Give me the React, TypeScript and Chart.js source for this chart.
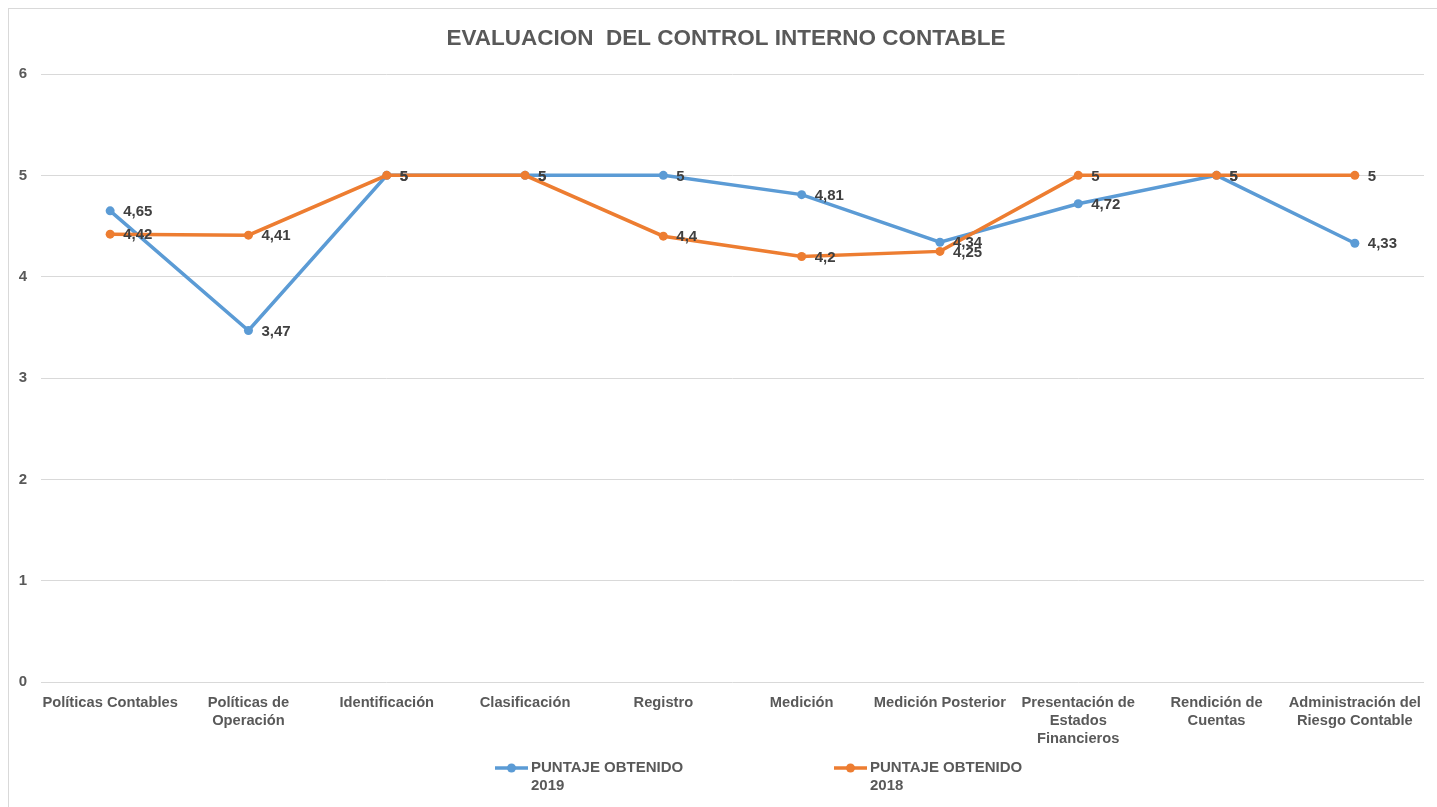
import React, { useEffect, useRef } from "react";
import { Chart, registerables } from "chart.js";
Chart.register(...registerables);

const categories: (string | string[])[] = [
  "Políticas Contables",
  ["Políticas de", "Operación"],
  "Identificación",
  "Clasificación",
  "Registro",
  "Medición",
  "Medición Posterior",
  ["Presentación de", "Estados", "Financieros"],
  ["Rendición de", "Cuentas"],
  ["Administración del", "Riesgo Contable"],
];
const puntaje2019 = [4.65, 3.47, 5, 5, 5, 4.81, 4.34, 4.72, 5, 4.33];
const puntaje2018 = [4.42, 4.41, 5, 5, 4.4, 4.2, 4.25, 5, 5, 5];
const legendNames = [["PUNTAJE OBTENIDO", "2019"], ["PUNTAJE OBTENIDO", "2018"]];
const titleText = "EVALUACION  DEL CONTROL INTERNO CONTABLE";
const yMin = 0;
const yMax = 6;
const yStep = 1;

const BLUE = "#5B9BD5";
const ORANGE = "#ED7D31";
const TEXT = "#595959";
const FONT = "'Liberation Sans', Arial, sans-serif";

const titlePlugin = {
  id: "customTitle",
  afterDraw(chart: any) {
    const ctx = chart.ctx;
    ctx.save();
    ctx.font = `bold 22.5px ${FONT}`;
    ctx.fillStyle = TEXT;
    ctx.textAlign = "center";
    ctx.textBaseline = "middle";
    ctx.fillText(titleText, chart.width / 2 - 2, 30);
    ctx.restore();
  },
};

const dataLabelPlugin = {
  id: "dataLabels",
  afterDatasetsDraw(chart: any) {
    const ctx = chart.ctx;
    ctx.save();
    ctx.font = `bold 15px ${FONT}`;
    ctx.fillStyle = "#404040";
    ctx.textAlign = "left";
    ctx.textBaseline = "middle";
    chart.data.datasets.forEach((ds: any, i: number) => {
      const meta = chart.getDatasetMeta(i);
      meta.data.forEach((pt: any, j: number) => {
        const v = ds.data[j];
        ctx.fillText(String(v).replace(".", ","), pt.x + 13, pt.y + 1);
      });
    });
    ctx.restore();
  },
};

const legendPlugin = {
  id: "customLegend",
  afterDraw(chart: any) {
    const ctx = chart.ctx;
    const cx = chart.width / 2;
    const starts = [cx - 233, cx + 106];
    const colors = [BLUE, ORANGE];
    const y = chart.height - 49;
    ctx.save();
    starts.forEach((sx, i) => {
      ctx.strokeStyle = colors[i];
      ctx.lineWidth = 3.5;
      ctx.beginPath();
      ctx.moveTo(sx, y);
      ctx.lineTo(sx + 33, y);
      ctx.stroke();
      ctx.fillStyle = colors[i];
      ctx.beginPath();
      ctx.arc(sx + 16.5, y, 4.5, 0, Math.PI * 2);
      ctx.fill();
      ctx.fillStyle = TEXT;
      ctx.font = `bold 15px ${FONT}`;
      ctx.textAlign = "left";
      ctx.textBaseline = "middle";
      legendNames[i].forEach((line, k) => {
        ctx.fillText(line, sx + 36, y + k * 18);
      });
    });
    ctx.restore();
  },
};

export default function App() {
  const ref = useRef<HTMLCanvasElement>(null);
  useEffect(() => {
    if (!ref.current) return;
    const chart = new Chart(ref.current, {
      type: "line",
      data: {
        labels: categories,
        datasets: [
          {
            label: legendNames[0].join(" "),
            data: puntaje2019,
            borderColor: BLUE,
            backgroundColor: BLUE,
            borderWidth: 3.5,
            pointRadius: 4.5,
            pointBackgroundColor: BLUE,
            pointBorderWidth: 0,
            tension: 0,
            order: 1,
          },
          {
            label: legendNames[1].join(" "),
            data: puntaje2018,
            borderColor: ORANGE,
            backgroundColor: ORANGE,
            borderWidth: 3.5,
            pointRadius: 4.5,
            pointBackgroundColor: ORANGE,
            pointBorderWidth: 0,
            tension: 0,
            order: 0,
          },
        ],
      },
      options: {
        animation: false,
        responsive: true,
        maintainAspectRatio: false,
        layout: { padding: { left: 0, right: 23, top: 65, bottom: 69 } },
        plugins: {
          legend: { display: false },
          tooltip: { enabled: false },
          title: { display: false },
        },
        scales: {
          x: {
            offset: true,
            grid: {
              display: true,
              drawOnChartArea: false,
              drawTicks: true,
              tickLength: 12,
              tickColor: "rgba(0,0,0,0)",
              offset: true,
            },
            border: { display: false },
            ticks: {
              autoSkip: false,
              maxRotation: 0,
              minRotation: 0,
              padding: 0,
              color: TEXT,
              font: { family: FONT, size: 14.7, weight: "bold", lineHeight: 1.22 },
            },
          },
          y: {
            min: yMin,
            max: yMax,
            afterFit: (scale: any) => {
              scale.width = 32;
            },
            grid: { color: "#d9d9d9", lineWidth: 1, drawTicks: false },
            border: { display: false },
            ticks: {
              stepSize: yStep,
              padding: 14,
              color: TEXT,
              font: { family: FONT, size: 15, weight: "bold" },
            },
          },
        },
      },
      plugins: [dataLabelPlugin, legendPlugin, titlePlugin],
    });
    return () => chart.destroy();
  }, []);
  return (
    <div
      style={{
        position: "absolute",
        left: 8,
        top: 8,
        width: "calc(100vw - 8px)",
        height: "calc(100vh - 8px)",
        overflow: "hidden",
      }}
    >
      <div
        style={{
          width: 1440,
          height: 810,
          border: "1px solid #d9d9d9",
          boxSizing: "border-box",
          position: "relative",
          background: "#fff",
        }}
      >
        <canvas ref={ref} />
      </div>
    </div>
  );
}
